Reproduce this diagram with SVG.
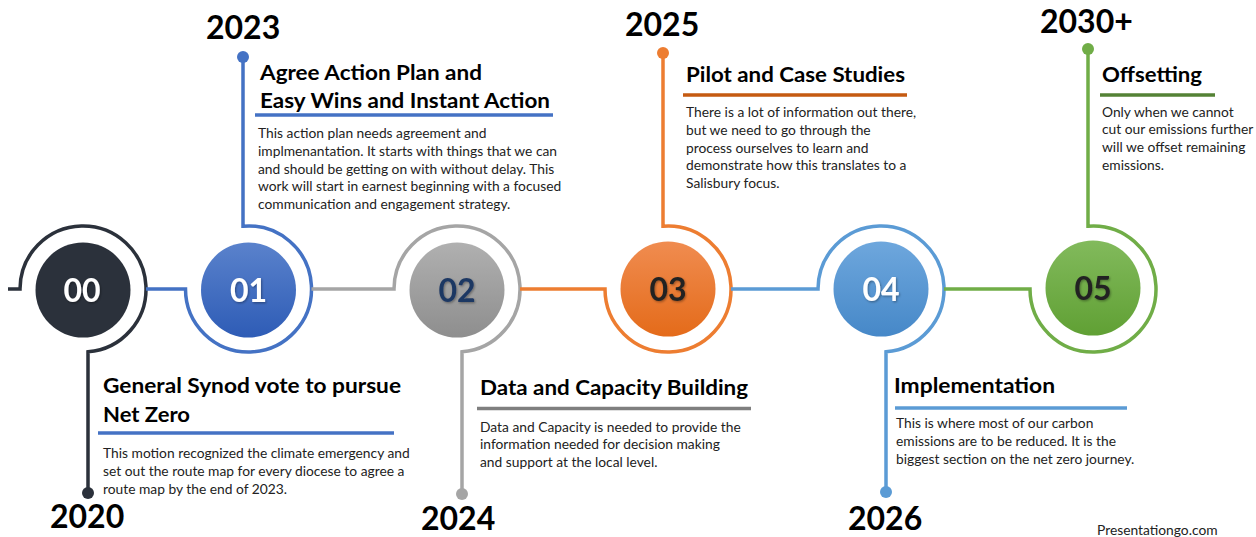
<svg xmlns="http://www.w3.org/2000/svg" width="1256" height="537" viewBox="0 0 1256 537">
<style>
.yr{font-family:Lato,"Open Sans",sans-serif;font-weight:700;font-size:32px;fill:#000}
.tt{font-family:Lato,"Open Sans",sans-serif;font-weight:700;font-size:21px;fill:#000}
.bd{font-family:Lato,"Open Sans",sans-serif;font-size:13.8px;fill:#222}
.num{font-family:Lato,"Open Sans",sans-serif;font-weight:700;font-size:32px;text-anchor:middle;filter:url(#sh)}
.ln{fill:none;stroke-width:3.5}
.ul{stroke-width:3.5}
</style>
<defs>
<filter id="sh" x="-20%" y="-20%" width="140%" height="140%"><feDropShadow dx="1" dy="1.2" stdDeviation="0.8" flood-color="#000" flood-opacity="0.35"/></filter>
<linearGradient id="g1" x1="0" y1="0" x2="0" y2="1"><stop offset="0" stop-color="#5a82cc"/><stop offset="1" stop-color="#2e5cb6"/></linearGradient>
<linearGradient id="g2" x1="0" y1="0" x2="0" y2="1"><stop offset="0" stop-color="#b0b0b0"/><stop offset="1" stop-color="#8e8e8e"/></linearGradient>
<linearGradient id="g3" x1="0" y1="0" x2="0" y2="1"><stop offset="0" stop-color="#f08c50"/><stop offset="1" stop-color="#e46b1a"/></linearGradient>
<linearGradient id="g4" x1="0" y1="0" x2="0" y2="1"><stop offset="0" stop-color="#6ea7dd"/><stop offset="1" stop-color="#4688c8"/></linearGradient>
<linearGradient id="g5" x1="0" y1="0" x2="0" y2="1"><stop offset="0" stop-color="#82ba5c"/><stop offset="1" stop-color="#60a034"/></linearGradient>
</defs>
<rect width="1256" height="537" fill="#fff"/>
<g id="connectors">
<path class="ln" stroke="#2b313b" d="M 8 289 H 20 A 63 63 0 1 1 88 351.8 V 488"/>
<circle cx="88" cy="493" r="6" fill="#2b313b"/>
<path class="ln" stroke="#4472c4" d="M 146 289 H 185.5 A 63 63 0 1 0 243 226.2 V 62"/>
<circle cx="243" cy="57" r="6" fill="#4472c4"/>
<path class="ln" stroke="#a5a5a5" d="M 311.5 289 H 394 A 63 63 0 1 1 462 351.8 V 489"/>
<circle cx="462" cy="494" r="6" fill="#a5a5a5"/>
<path class="ln" stroke="#ed7d31" d="M 520 289 H 605 A 63 63 0 1 0 663 226.2 V 58"/>
<circle cx="663" cy="53" r="6" fill="#ed7d31"/>
<path class="ln" stroke="#5b9bd5" d="M 731 289 H 818 A 63 63 0 1 1 886 351.8 V 487"/>
<circle cx="886" cy="492" r="6" fill="#5b9bd5"/>
<path class="ln" stroke="#70ad47" d="M 944 289 H 1030 A 63 63 0 1 0 1088 226.2 V 54"/>
<circle cx="1088" cy="49" r="6" fill="#70ad47"/>
</g>
<g id="node-00">
<circle cx="83" cy="290" r="47.5" fill="#2b313b"/>
<text class="num" x="82" y="302" fill="#fff">00</text>
<text class="yr" x="50" y="528">2020</text>
<text class="tt" x="103" y="393" textLength="298" lengthAdjust="spacingAndGlyphs">General Synod vote to pursue</text>
<text class="tt" x="103" y="421.5" textLength="87" lengthAdjust="spacingAndGlyphs">Net Zero</text>
<line class="ul" x1="98" y1="433" x2="394" y2="433" stroke="#4472c4"/>
<text class="bd" x="103" y="458">This motion recognized the climate emergency and</text>
<text class="bd" x="103" y="476">set out the route map for every diocese to agree a</text>
<text class="bd" x="103" y="493.5">route map by the end of 2023.</text>
</g>
<g id="node-01">
<circle cx="248.5" cy="290" r="47.5" fill="url(#g1)"/>
<text class="num" x="248.5" y="302" fill="#fff">01</text>
<text class="yr" x="206" y="39">2023</text>
<text class="tt" x="260" y="80" textLength="222" lengthAdjust="spacingAndGlyphs">Agree Action Plan and</text>
<text class="tt" x="260" y="108" textLength="290" lengthAdjust="spacingAndGlyphs">Easy Wins and Instant Action</text>
<line class="ul" x1="255" y1="115" x2="553" y2="115" stroke="#4472c4"/>
<text class="bd" x="258" y="138.3">This action plan needs agreement and</text>
<text class="bd" x="258" y="156">implmenantation. It starts with things that we can</text>
<text class="bd" x="258" y="173.7">and should be getting on with without delay. This</text>
<text class="bd" x="258" y="191.4">work will start in earnest beginning with a focused</text>
<text class="bd" x="258" y="209.1">communication and engagement strategy.</text>
</g>
<g id="node-02">
<circle cx="457" cy="290" r="47.5" fill="url(#g2)"/>
<text class="num" x="457" y="302" fill="#1f3864">02</text>
<text class="yr" x="421" y="530">2024</text>
<text class="tt" x="480" y="395" textLength="268" lengthAdjust="spacingAndGlyphs">Data and Capacity Building</text>
<line class="ul" x1="477" y1="408.5" x2="751" y2="408.5" stroke="#7f7f7f"/>
<text class="bd" x="480" y="431.7">Data and Capacity is needed to provide the</text>
<text class="bd" x="480" y="449.4">information needed for decision making</text>
<text class="bd" x="480" y="467.1">and support at the local level.</text>
</g>
<g id="node-03">
<circle cx="668" cy="289" r="47.5" fill="url(#g3)"/>
<text class="num" x="668" y="301" fill="#222">03</text>
<text class="yr" x="625" y="36">2025</text>
<text class="tt" x="686" y="81.7" textLength="219" lengthAdjust="spacingAndGlyphs">Pilot and Case Studies</text>
<line class="ul" x1="683" y1="95" x2="907" y2="95" stroke="#c55a11"/>
<text class="bd" x="686" y="117.3">There is a lot of information out there,</text>
<text class="bd" x="686" y="135">but we need to go through the</text>
<text class="bd" x="686" y="152.7">process ourselves to learn and</text>
<text class="bd" x="686" y="170.4">demonstrate how this translates to a</text>
<text class="bd" x="686" y="188.1">Salisbury focus.</text>
</g>
<g id="node-04">
<circle cx="881" cy="289" r="47.5" fill="url(#g4)"/>
<text class="num" x="881" y="301" fill="#fff">04</text>
<text class="yr" x="848" y="530">2026</text>
<text class="tt" x="894" y="393.3" textLength="161" lengthAdjust="spacingAndGlyphs">Implementation</text>
<line class="ul" x1="895" y1="408" x2="1127" y2="408" stroke="#5b9bd5"/>
<text class="bd" x="896" y="428.3">This is where most of our carbon</text>
<text class="bd" x="896" y="446">emissions are to be reduced. It is the</text>
<text class="bd" x="896" y="463.7">biggest section on the net zero journey.</text>
</g>
<g id="node-05">
<circle cx="1093" cy="288" r="47.5" fill="url(#g5)"/>
<text class="num" x="1093" y="300" fill="#222">05</text>
<text class="yr" x="1040" y="33">2030+</text>
<text class="tt" x="1102" y="81.7" textLength="100" lengthAdjust="spacingAndGlyphs">Offsetting</text>
<line class="ul" x1="1100" y1="95" x2="1215" y2="95" stroke="#548235"/>
<text class="bd" x="1102" y="116.7">Only when we cannot</text>
<text class="bd" x="1102" y="134.4">cut our emissions further</text>
<text class="bd" x="1102" y="152.1">will we offset remaining</text>
<text class="bd" x="1102" y="169.8">emissions.</text>
</g>
<text x="1097" y="535" font-family="Lato,'Open Sans',sans-serif" font-size="13.8" fill="#222">Presentationgo.com</text>
</svg>
